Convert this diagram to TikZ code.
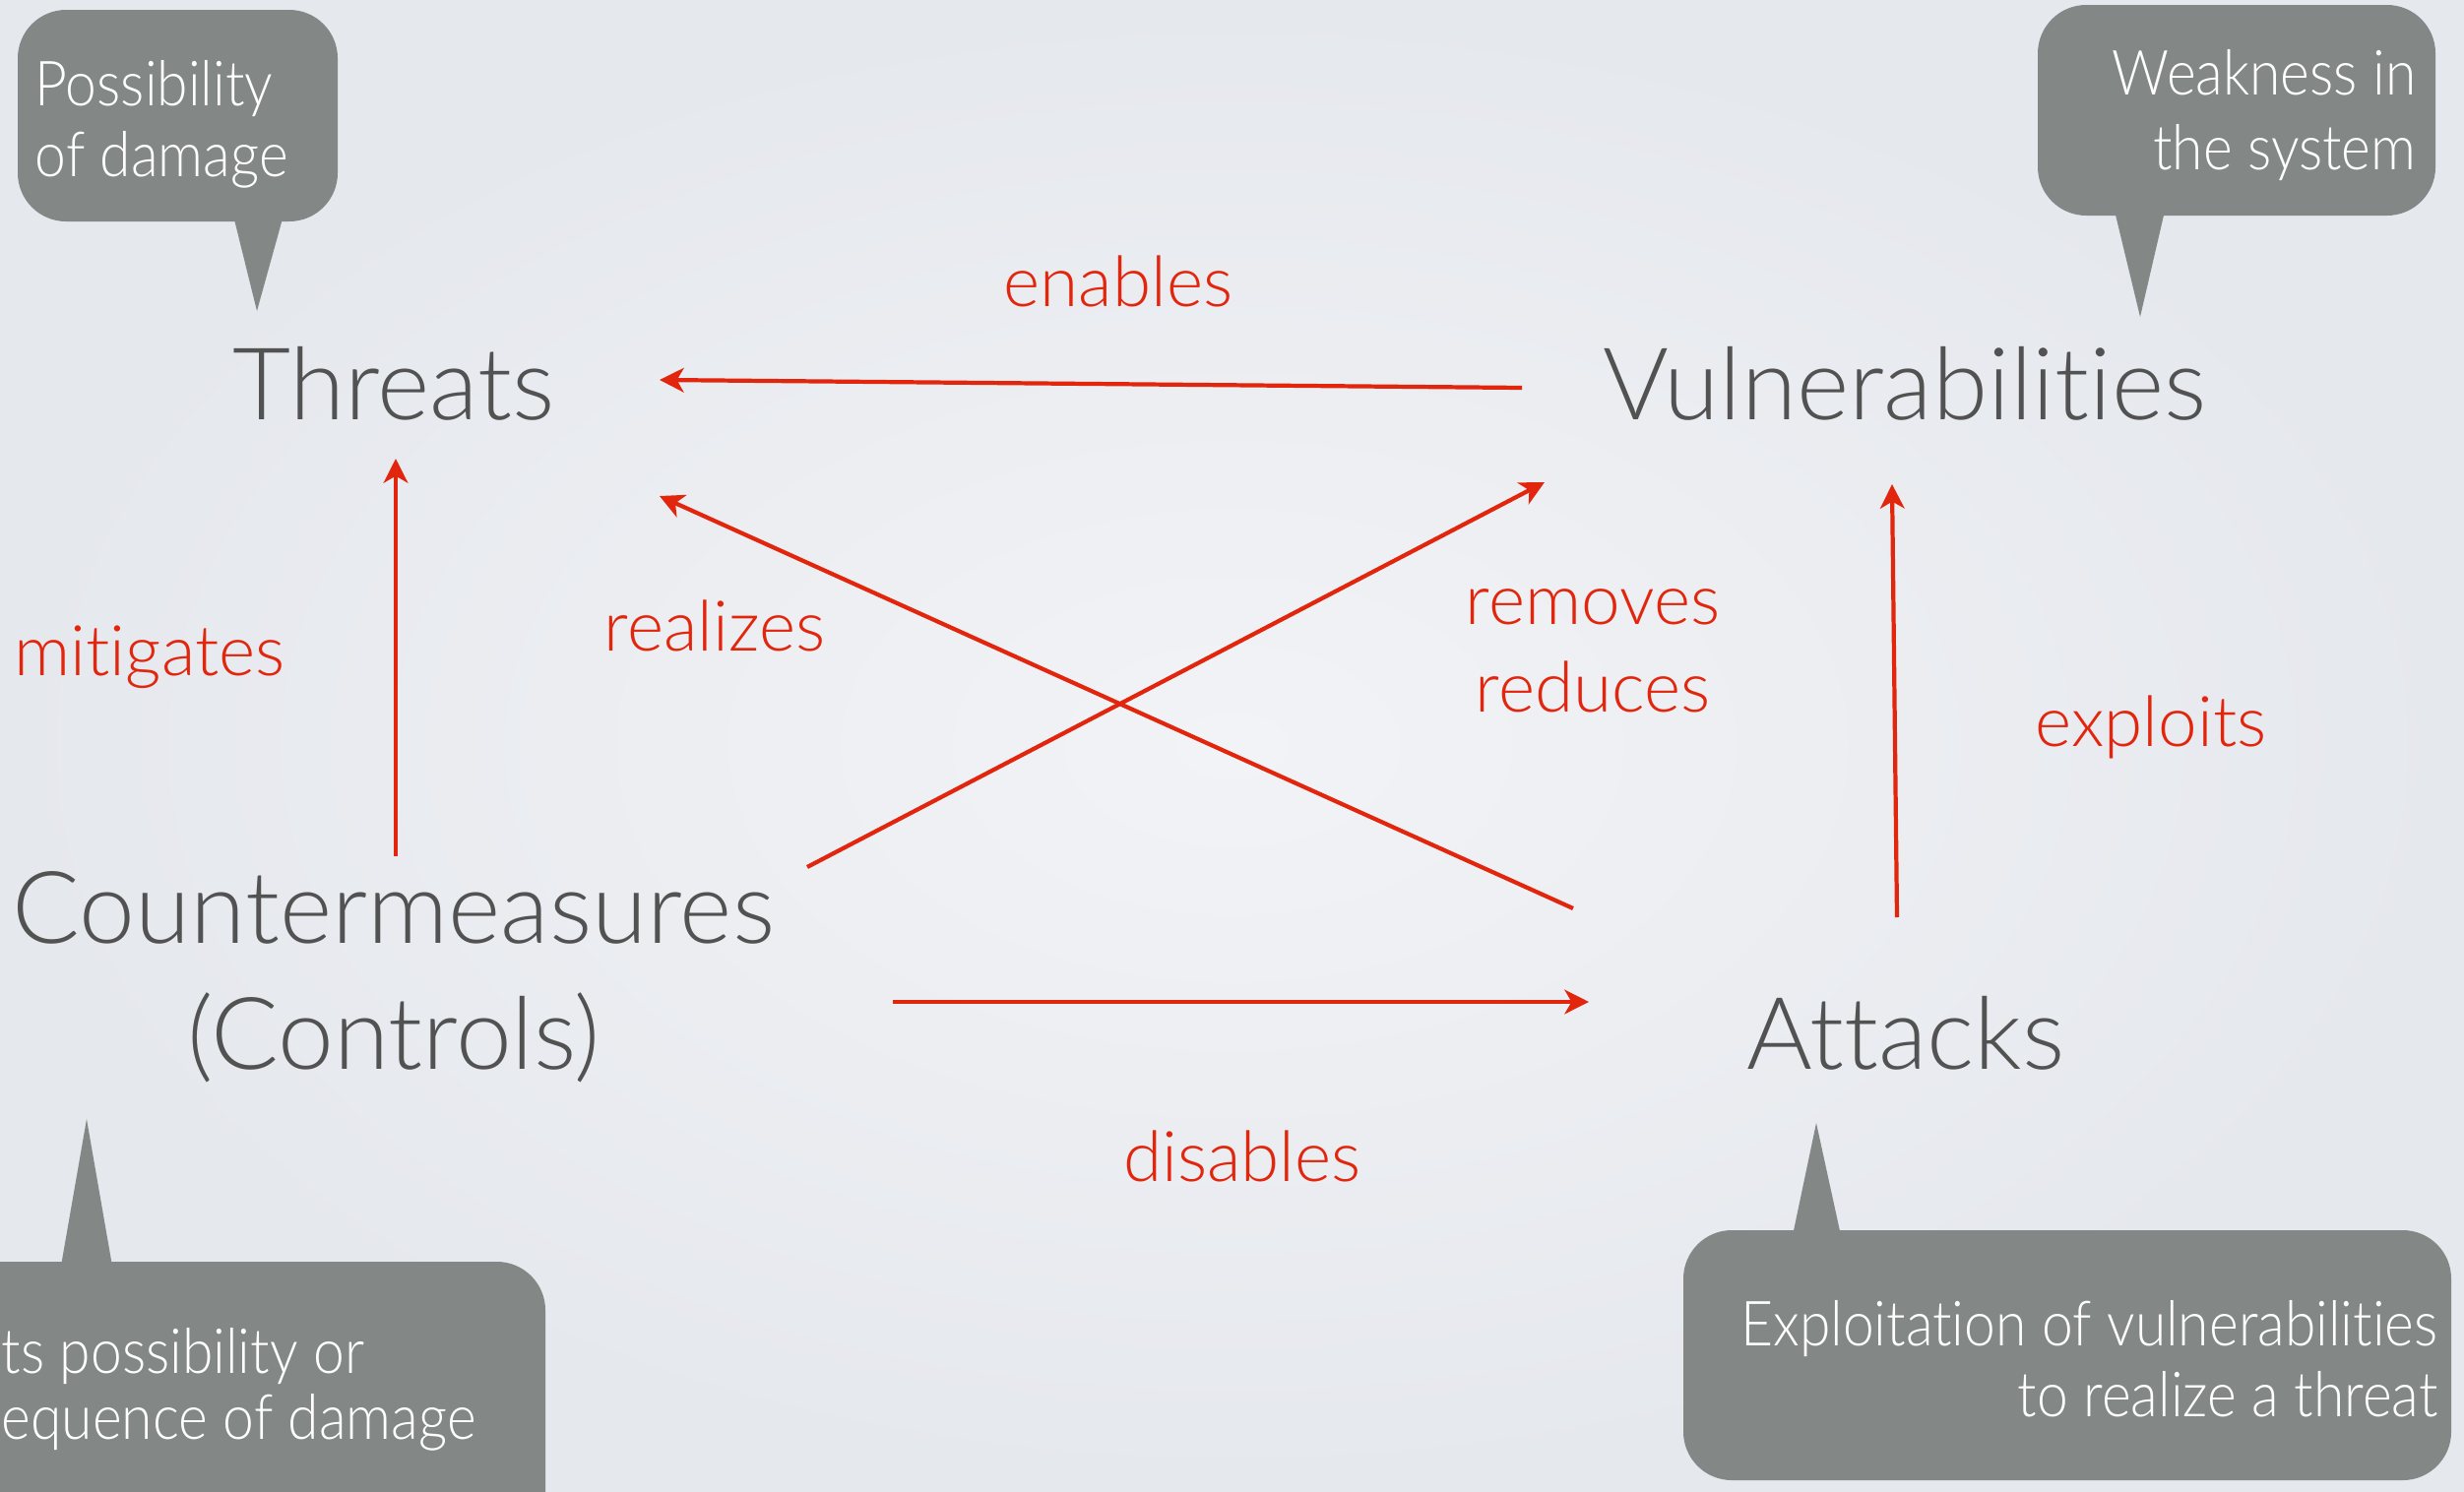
\documentclass[tikz,border=0pt]{standalone}
\usepackage{fontspec}
\IfFontExistsTF{Lato Light}{%
  \setmainfont{Lato Light}[Ligatures=NoCommon]%
  \newfontfamily\bubfont{Lato Light}[Ligatures=NoCommon,FakeStretch=0.9]}{%
  \setmainfont{Lato}[Ligatures=NoCommon]%
  \newfontfamily\bubfont{Lato}[Ligatures=NoCommon,FakeStretch=0.9]}
\usetikzlibrary{arrows.meta}
\definecolor{bgin}{RGB}{242,243,246}
\definecolor{bgout}{RGB}{229,232,237}
\definecolor{ink}{RGB}{82,82,82}
\definecolor{redl}{RGB}{226,38,14}
\definecolor{bubble}{RGB}{131,136,134}
\tikzset{
  mainlbl/.style={inner sep=0pt, text=ink, font=\fontsize{29}{35}\selectfont},
  rel/.style={inner sep=0pt, text=redl, font=\fontsize{20.2}{24}\selectfont},
  btext/.style={inner sep=0pt, text=white, font=\bubfont\fontsize{18}{22}\selectfont},
  bub/.style={fill=bubble, draw=none},
  conn/.style={draw=redl, line width=1.2pt, -{Stealth[length=7pt,width=7pt,inset=2pt]}}
}
\begin{document}
\begin{tikzpicture}[x=0.01cm,y=-0.01cm]
\clip (0,0) rectangle (2503,1515);
\shade[inner color=bgin, outer color=bgout] (0,0) rectangle (2503,1515);
% callout bubbles
\fill[bub, rounded corners=14pt] (18,10) rectangle (343,225);
\fill[bub] (236,215) -- (261,316) -- (289,215) -- cycle;
\fill[bub, rounded corners=14pt] (2070,5) rectangle (2474,219);
\fill[bub] (2147,210) -- (2174,322) -- (2200,210) -- cycle;
\fill[bub, rounded corners=14pt] (1710,1250) rectangle (2490,1504);
\fill[bub] (1820,1260) -- (1845,1141) -- (1871,1260) -- cycle;
\fill[bub, rounded corners=14pt] (-80,1282) rectangle (554,1580);
\fill[bub] (61,1292) -- (88,1137) -- (115,1292) -- cycle;
% callout texts
\node[btext, anchor=base west] (pos1) at (35,107) {Possibility};
\node[btext, anchor=base west] (pos2) at (35,179) {of damage};
\node[btext, anchor=base east] (wk1) at (2455,97) {Weakness in};
\node[btext, anchor=base east] (wk2) at (2455,172) {the system};
\node[btext, anchor=base east] (ex1) at (2477,1367) {Exploitation of vulnerabilities};
\node[btext, anchor=base east] (ex2) at (2477,1439) {to realize a threat};
\node[btext, anchor=base west] (rd1) at (1,1395) {ts possibility or};
\node[btext, anchor=base west] (rd2) at (1,1462) {equence of damage};
% main labels
\node[mainlbl, anchor=base] (thr) at (400,426) {Threats};
\node[mainlbl, anchor=base] (vul) at (1935,426) {Vulnerabilities};
\node[mainlbl, anchor=base] (cm1) at (400,958) {Countermeasures};
\node[mainlbl, anchor=base] (cm2) at (400,1086) {(Controls)};
\node[mainlbl, anchor=base] (att) at (1936,1086) {Attacks};
% relation labels
\node[rel, anchor=base] (l-en) at (1136,311) {enables};
\node[rel, anchor=base] (l-mi) at (152,686) {mitigates};
\node[rel, anchor=base] (l-re) at (726,661) {realizes};
\node[rel, anchor=base] (l-rm) at (1618,634) {removes};
\node[rel, anchor=base] (l-rd) at (1618,723) {reduces};
\node[rel, anchor=base] (l-ex) at (2185,758) {exploits};
\node[rel, anchor=base] (l-di) at (1262,1200) {disables};
% connector ends
\coordinate (vulW) at (1546,394);
\coordinate (thrE) at (670,386);
\coordinate (cmN) at (402,870);
\coordinate (thrS) at (402,466);
\coordinate (attNW) at (1598,923);
\coordinate (thrSE) at (670,504);
\coordinate (cmNE) at (820,881);
\coordinate (vulSW) at (1569,490);
\coordinate (attN) at (1927,932);
\coordinate (vulS) at (1922,492);
\coordinate (cmE) at (907,1018);
\coordinate (attW) at (1614,1018);
% connectors
\draw[conn] (vulW) -- (thrE);
\draw[conn] (cmN) -- (thrS);
\draw[conn] (attNW) -- (thrSE);
\draw[conn] (cmNE) -- (vulSW);
\draw[conn] (attN) -- (vulS);
\draw[conn] (cmE) -- (attW);
\end{tikzpicture}
\end{document}
